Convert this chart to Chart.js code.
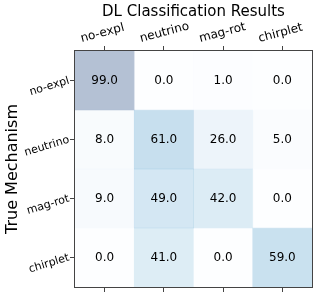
<!DOCTYPE html>
<html>
<head>
<meta charset="utf-8">
<script src="https://cdn.jsdelivr.net/npm/chart.js@4"></script>
<style>
  body { margin: 0; background: #fff; }
</style>
</head>
<body>
<canvas id="cm" width="316" height="294"></canvas>
<script>
const predLabels = ['no-expl', 'neutrino', 'mag-rot', 'chirplet'];
const trueLabels = ['no-expl', 'neutrino', 'mag-rot', 'chirplet'];

// one row per true mechanism, percent per predicted class
const noExplRow = [99.0, 0.0, 1.0, 0.0];
const neutrinoRow = [8.0, 61.0, 26.0, 5.0];
const magRotRow = [9.0, 49.0, 42.0, 0.0];
const chirpletRow = [0.0, 41.0, 0.0, 59.0];
const rows = [noExplRow, neutrinoRow, magRotRow, chirpletRow];

// matplotlib "Blues" drawn at alpha 0.3
const bluesStops = [
    [247, 251, 255], [222, 235, 247], [198, 219, 239], [158, 202, 225],
    [107, 174, 214], [66, 146, 198], [33, 113, 181], [8, 81, 156], [8, 48, 107]
];
function blues(v) {
    const t = Math.max(0, Math.min(1, v / 100)) * (bluesStops.length - 1);
    const i = Math.min(Math.floor(t), bluesStops.length - 2);
    const f = t - i;
    const c = bluesStops[i].map((a, k) => Math.round(a + (bluesStops[i + 1][k] - a) * f));
    return `rgba(${c[0]}, ${c[1]}, ${c[2]}, 0.3)`;
}

const datasets = rows.map((row, r) => ({
    label: trueLabels[r],
    data: row.map(() => [r, r + 1]),
    values: row,
    backgroundColor: row.map(v => blues(v)),
    borderWidth: 0,
    barPercentage: 1,
    categoryPercentage: 1,
    grouped: false
}));

const cellText = {
    id: 'cellText',
    afterDatasetsDraw(chart) {
        const ctx = chart.ctx;
        ctx.save();
        ctx.font = '12px "DejaVu Sans"';
        ctx.fillStyle = '#000';
        ctx.textAlign = 'center';
        ctx.textBaseline = 'middle';
        chart.data.datasets.forEach((ds, d) => {
            chart.getDatasetMeta(d).data.forEach((el, i) => {
                ctx.fillText(ds.values[i].toFixed(1), el.x, (el.y + el.base) / 2);
            });
        });
        ctx.restore();
    }
};

const frame = {
    id: 'frame',
    afterDraw(chart) {
        const a = chart.chartArea;
        const ctx = chart.ctx;
        ctx.save();
        ctx.strokeStyle = '#444';
        ctx.lineWidth = 1;
        ctx.strokeRect(Math.round(a.left) - 0.5, Math.round(a.top) - 0.5,
            Math.round(a.right - a.left) + 1, Math.round(a.bottom - a.top) + 1);
        ctx.restore();
    }
};

const tickGrid = {
    display: true,
    drawOnChartArea: false,
    drawTicks: true,
    tickLength: 5,
    color: '#444',
    offset: false
};

function noPad(s) {
    s.paddingLeft = 0;
    s.paddingRight = 0;
    s.paddingTop = 0;
    s.paddingBottom = 0;
}

new Chart(document.getElementById('cm'), {
    type: 'bar',
    data: { labels: predLabels, datasets: datasets },
    plugins: [cellText, frame],
    options: {
        responsive: false,
        animation: false,
        layout: { padding: { left: 0, right: 4, top: 0, bottom: 0 } },
        font: { family: '"DejaVu Sans"' },
        scales: {
            x: {
                type: 'category',
                position: 'top',
                offset: true,
                grid: tickGrid,
                border: { display: false },
                ticks: {
                    color: '#000',
                    font: { size: 12, family: '"DejaVu Sans"' },
                    minRotation: 15,
                    maxRotation: 15,
                    labelOffset: -20,
                    padding: 0,
                    autoSkip: false
                },
                title: {
                    display: true,
                    text: 'DL Classification Results',
                    color: '#000',
                    font: { size: 15, family: '"DejaVu Sans"' },
                    padding: { top: 3, bottom: 0 }
                },
                afterFit: s => { s.height = 51; noPad(s); }
            },
            x2: {
                type: 'category',
                position: 'bottom',
                offset: true,
                grid: tickGrid,
                border: { display: false },
                ticks: { display: false },
                afterFit: s => { s.height = 7; noPad(s); }
            },
            y: {
                type: 'linear',
                min: 0,
                max: 4,
                reverse: true,
                grid: tickGrid,
                border: { display: false },
                afterBuildTicks: s => { s.ticks = trueLabels.map((l, i) => ({ value: i + 0.5 })); },
                ticks: {
                    color: '#000',
                    font: { size: 11, family: '"DejaVu Sans"' },
                    minRotation: 17,
                    maxRotation: 17,
                    padding: 1,
                    callback: v => trueLabels[Math.floor(v)]
                },
                title: {
                    display: true,
                    text: 'True Mechanism',
                    color: '#000',
                    font: { size: 16, family: '"DejaVu Sans"' },
                    padding: { top: 3, bottom: 0 }
                },
                afterFit: s => { s.width = 75; noPad(s); }
            }
        },
        plugins: {
            legend: { display: false },
            tooltip: { enabled: false },
            title: { display: false }
        }
    }
});
</script>
</body>
</html>
